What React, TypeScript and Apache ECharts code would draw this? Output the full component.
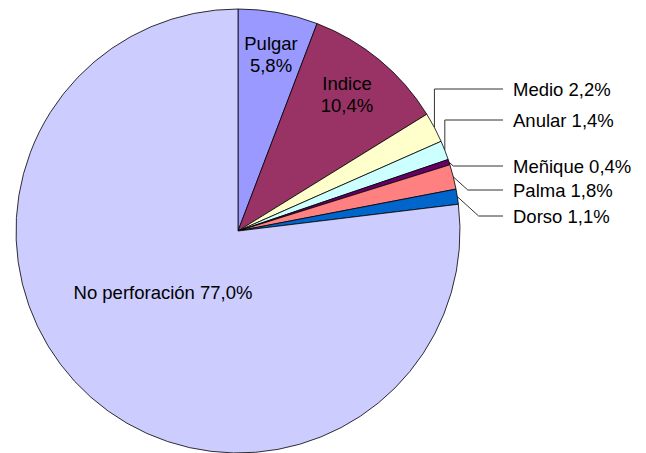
import React, { useEffect, useRef } from "react";
import * as echarts from "echarts";

const categories = ["Pulgar", "Indice", "Medio", "Anular", "Meñique", "Palma", "Dorso", "No perforación"];
const values = [5.8, 10.4, 2.2, 1.4, 0.4, 1.8, 1.1, 77.0];
const colors = ["#9999FF", "#993366", "#FFFFCC", "#CCFFFF", "#660066", "#FF8080", "#0066CC", "#CCCCFF"];
const insideLabels = ["Pulgar", "Indice", "No perforación"];

// label layout (positions only)
const CX = 238;
const CY = 231;
const R = 222;
const FONT = "'Liberation Sans', Arial, Helvetica, sans-serif";
const labelPos: Record<string, { x: number; y: number; bend: "v" | "d" }> = {
  Pulgar: { x: 271, y: 54, bend: "v" },
  Indice: { x: 347, y: 94, bend: "v" },
  "No perforación": { x: 163, y: 292, bend: "v" },
  Medio: { x: 513, y: 89, bend: "v" },
  Anular: { x: 513, y: 120, bend: "v" },
  "Meñique": { x: 513, y: 166, bend: "d" },
  Palma: { x: 513, y: 190, bend: "d" },
  Dorso: { x: 513, y: 216, bend: "d" },
};
const LINE_END_X = 503;

const fmt = (v: number) => v.toFixed(1).replace(".", ",") + "%";

export default function App() {
  const ref = useRef<HTMLDivElement>(null);
  useEffect(() => {
    if (!ref.current) return;
    const chart = echarts.init(ref.current, undefined, { renderer: "svg" });
    const total = values.reduce((a, b) => a + b, 0);
    const cum: number[] = [];
    let acc = 0;
    values.forEach((v) => {
      cum.push(acc + v / 2);
      acc += v;
    });
    chart.setOption({
      animation: false,
      backgroundColor: "#fff",
      series: [
        {
          type: "pie",
          center: [CX, CY],
          radius: [0, R],
          startAngle: 90,
          clockwise: true,
          avoidLabelOverlap: false,
          itemStyle: { borderColor: "#000", borderWidth: 0.8 },
          label: {
            show: true,
            position: "outside",
            fontFamily: FONT,
            fontSize: 18.5,
            color: "#000",
            lineHeight: 22,
            formatter: (p: any) =>
              p.name === "Pulgar" || p.name === "Indice"
                ? `${p.name}\n${fmt(p.value)}`
                : `${p.name} ${fmt(p.value)}`,
          },
          labelLine: { show: true, lineStyle: { color: "#333", width: 1 }, length: 10, length2: 10 },
          emphasis: { disabled: true },
          labelLayout: (params: any) => {
            const name = categories[params.dataIndex];
            const lp = labelPos[name];
            if (insideLabels.includes(name)) {
              return { x: lp.x, y: lp.y, align: "center", verticalAlign: "middle" };
            }
            let p0 = params.labelLinePoints && params.labelLinePoints[0];
            if (!p0) {
              const ang = (cum[params.dataIndex] / total) * Math.PI * 2;
              p0 = [CX + R * Math.sin(ang), CY - R * Math.cos(ang)];
            }
            const dy = Math.abs(lp.y - p0[1]);
            const bx = lp.bend === "v" ? p0[0] : p0[0] + dy * 1.1;
            return {
              x: lp.x,
              y: lp.y,
              align: "left",
              verticalAlign: "middle",
              labelLinePoints: [
                [p0[0], p0[1]],
                [bx, lp.y],
                [LINE_END_X, lp.y],
              ],
            };
          },
          data: categories.map((name, i) => ({
            name,
            value: values[i],
            itemStyle: { color: colors[i] },
            label: { position: insideLabels.includes(name) ? "inside" : "outside" },
            labelLine: { show: !insideLabels.includes(name) },
          })),
        },
      ],
    });
    return () => chart.dispose();
  }, []);
  return (
    <div
      ref={ref}
      style={{ position: "fixed", left: 0, top: 0, width: 646, height: 453, background: "#fff" }}
    />
  );
}
